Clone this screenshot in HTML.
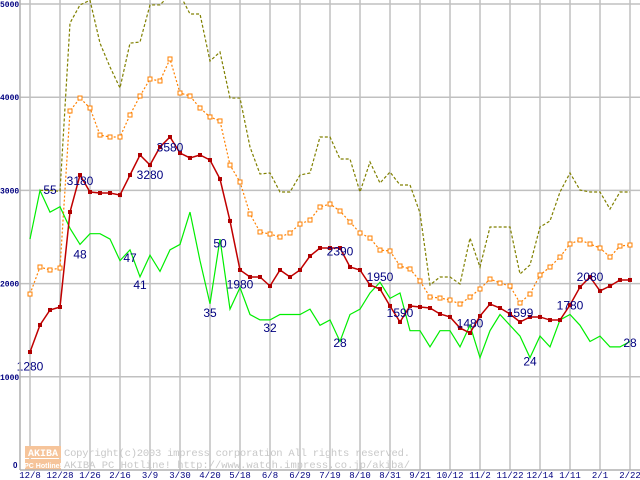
<!DOCTYPE html>
<html><head><meta charset="utf-8"><style>
body{margin:0;background:#fff;}
svg{display:block;font-family:"Liberation Sans",sans-serif;}
</style></head><body>
<svg id="chart" width="640" height="480" viewBox="0 0 640 480" xmlns="http://www.w3.org/2000/svg">
<g id="grid"></g>
<g id="watermark">
  <rect x="25" y="446" width="36" height="12" fill="#f6c49a"/>
  <rect x="25" y="459" width="36" height="11" fill="#f6c49a"/>
  <text x="43" y="456" font-size="10" font-weight="bold" fill="#fff" text-anchor="middle" font-family="Liberation Mono,monospace">AKIBA</text>
  <text x="43" y="468" font-size="7" font-weight="bold" fill="#fff" text-anchor="middle">PC Hotline!</text>
  <text x="64" y="456" font-size="10.5" fill="#c8c8c8" font-family="Liberation Mono,monospace" textLength="346">Copyright(c)2003 impress corporation All rights reserved.</text>
  <text x="64" y="468" font-size="10.5" fill="#c8c8c8" font-family="Liberation Mono,monospace" textLength="346">AKIBA PC Hotline!  http://www.watch.impress.co.jp/akiba/</text>
</g>
<g id="series"></g>
<g id="labels"></g>
<g id="axes"></g>
</svg>
<script>
const yTicks = [1000, 2000, 3000, 4000, 5000];
const xTickLabels = ["12/8","12/28","1/26","2/16","3/9","3/30","4/20","5/18","6/8","6/29","7/19","8/10","8/31","9/21","10/12","11/2","11/22","12/14","1/11","2/1","2/22"];
const redPrice = [1266,1556,1717,1749,2768,3165,2983,2972,2972,2950,3165,3380,3272,3466,3573,3401,3348,3380,3326,3122,2672,2146,2071,2071,1974,2146,2071,2146,2296,2382,2382,2382,2178,2146,1985,1942,1760,1588,1760,1749,1738,1674,1642,1524,1470,1652,1781,1738,1674,1588,1642,1642,1609,1609,1770,1963,2071,1921,1974,2039,2039];
const orangePrice = [1888,2178,2146,2167,3852,3991,3884,3594,3573,3573,3809,4013,4195,4174,4410,4045,4013,3884,3788,3745,3272,3090,2747,2554,2532,2500,2543,2639,2682,2822,2854,2779,2661,2543,2489,2360,2350,2189,2157,2028,1856,1845,1824,1781,1856,1942,2049,2006,1974,1792,1888,2092,2178,2285,2425,2468,2425,2382,2285,2403,2414];
const olivePrice = [null,3000,3000,2990,4795,4990,5040,4580,4324,4099,4580,4592,4990,4990,5100,5100,4893,4893,4388,4485,3991,3991,3466,3176,3187,2983,2983,3165,3187,3573,3573,3337,3337,2983,3305,3079,3197,3058,3058,2758,1985,2071,2071,1996,2489,2178,2607,2607,2607,2103,2200,2607,2672,2983,3187,3004,2983,2983,2800,2983,2983];
const greenCount = [46,55,51,52,48,45,47,47,46,42,44,39,43,40,44,45,51,42,34,46,33,37,32,31,31,32,32,32,33,30,31,27,32,33,36,38,35,36,29,29,26,29,29,26,30,24,29,32,30,28,24,28,26,31,32,30,27,28,26,26,27];
const annotationText = ["1280","55","3180","48","3280","47","41","3580","35","50","1980","32","2390","28","1950","1590","1480","1599","24","1780","2080","28"];
const annotationWeek = [0,2,5,5,12,10,11,14,18,19,21,24,31,31,35,37,44,49,50,54,56,60];
const annotationValue = [1070,2960,3060,2270,3120,2230,1940,3420,1640,2390,1950,1480,2300,1320,2030,1640,1530,1640,1120,1720,2030,1320];

const NS="http://www.w3.org/2000/svg";
const X0=30, DX=10, Y0=470, PY=0.0932, GCY=487, GCS=5.39;
const xs=i=>X0+i*DX;
const ys=v=>Y0-v*PY;
const yg=c=>GCY-c*GCS;
function mk(tag,attrs,parent){const e=document.createElementNS(NS,tag);for(const k in attrs)e.setAttribute(k,attrs[k]);parent.appendChild(e);return e;}
const grid=document.getElementById('grid'), axes=document.getElementById('axes'), series=document.getElementById('series'), labels=document.getElementById('labels');
yTicks.forEach(t=>{
  const l=mk('line',{x1:20,x2:640,y1:ys(t),y2:ys(t),stroke:'#c0c0c0','stroke-width':1.5},grid);
  
  
  const tx=mk('text',{x:0,y:ys(t)+3,'font-size':8,'font-weight':'bold',fill:'#000080','font-family':'Liberation Mono,monospace'},axes);
  tx.textContent=t;
  
  
});
xTickLabels.forEach((s,i)=>{
  const x=X0+i*30;
  const l=mk('line',{x1:x,x2:x,y1:0,y2:470,stroke:'#c0c0c0','stroke-width':1.5},grid);
  
  
  const tx=mk('text',{x:x,y:478,'font-size':9,fill:'#000080','text-anchor':'middle','font-family':'Liberation Mono,monospace'},axes);
  tx.textContent=s;
  
  
});
const ax=mk('line',{x1:20,x2:20,y1:0,y2:470,stroke:'#b0b0b0','stroke-width':1.5},axes);


const bx=mk('line',{x1:20,x2:640,y1:470,y2:470,stroke:'#b0b0b0','stroke-width':1.5},axes);


const zt=mk('text',{x:13,y:468,'font-size':8,'font-weight':'bold',fill:'#000080'},axes);
zt.textContent='0';



function path(arr,fy){let d='',pen=false;arr.forEach((v,i)=>{if(v==null){pen=false;return;}d+=(pen?'L':'M')+xs(i)+' '+fy(v)+' ';pen=true;});return d;}
const ol=mk('path',{d:path(olivePrice,ys),fill:'none',stroke:'#808000','stroke-width':1.2,'stroke-dasharray':'3,2'},series);


const gl=mk('path',{d:path(greenCount,yg),fill:'none',stroke:'#00ee00','stroke-width':1.2},series);


const orl=mk('path',{d:path(orangePrice,ys),fill:'none',stroke:'#ff8000','stroke-width':1.2,'stroke-dasharray':'2,2'},series);


orangePrice.forEach((v,i)=>{
  const r=mk('rect',{x:xs(i)-2,y:ys(v)-2,width:4,height:4,fill:'#fff',stroke:'#ff8000','stroke-width':1},series);
  
  
});
const rl=mk('path',{d:path(redPrice,ys),fill:'none',stroke:'#c00000','stroke-width':1.5},series);


redPrice.forEach((v,i)=>{
  const r=mk('rect',{x:xs(i)-2,y:ys(v)-2,width:4,height:4,fill:'#b00000'},series);
  
  
});
annotationText.forEach((s,i)=>{
  const t=mk('text',{x:xs(annotationWeek[i]),y:ys(annotationValue[i]),'font-size':12,fill:'#000080','text-anchor':'middle'},labels);
  t.textContent=s;
  
  
});
</script>
</body></html>
